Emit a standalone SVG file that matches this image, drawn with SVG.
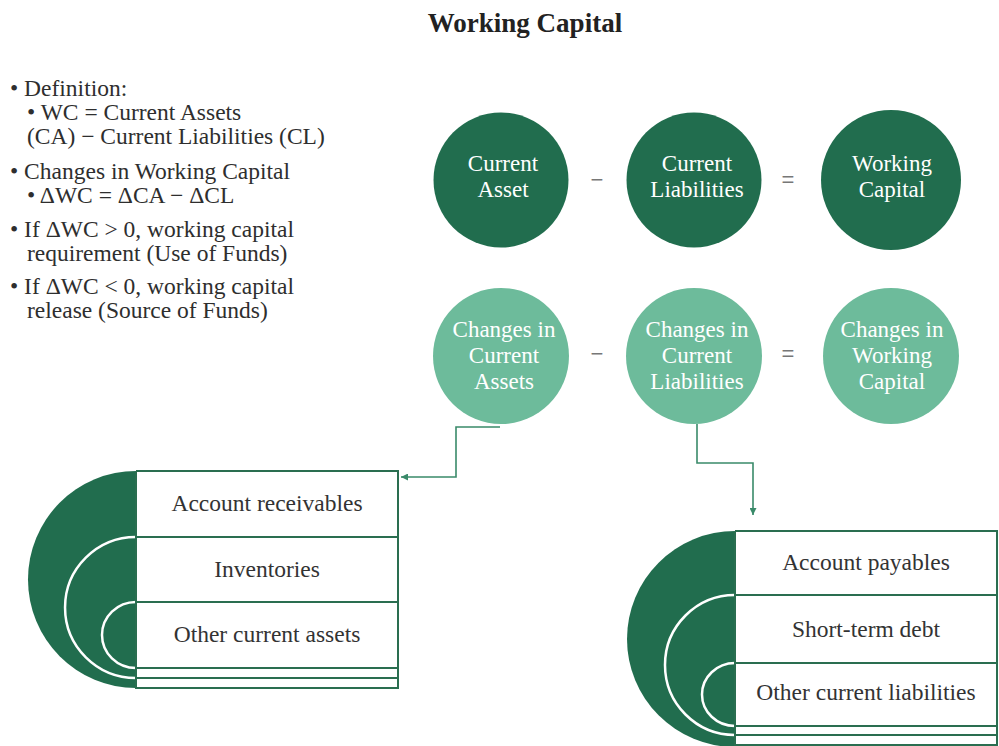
<svg xmlns="http://www.w3.org/2000/svg" width="999" height="746" viewBox="0 0 999 746">
<defs>
<style>
.t{font-family:"Liberation Serif","Times New Roman",serif;font-size:23.5px;fill:#2e2e2e}
.ttl{font-family:"Liberation Serif","Times New Roman",serif;font-size:27px;font-weight:bold;fill:#222}
.ct{font-family:"Liberation Serif","Times New Roman",serif;font-size:23px;fill:#fff;text-anchor:middle}
.bt{font-family:"Liberation Serif","Times New Roman",serif;font-size:23.5px;fill:#333;text-anchor:middle}
.op{font-family:"Liberation Sans",Arial,sans-serif;font-size:22px;fill:#777;text-anchor:middle}
.dk{fill:#216d4e}
.lt{fill:#6dbb9b}
.ln{stroke:#2a6e50;stroke-width:2;fill:none}
.wa{stroke:#fff;stroke-width:2.5;fill:none}
.cn{stroke:#3a8a6a;stroke-width:1.6;fill:none}
</style>
<marker id="ah" viewBox="0 0 10 10" refX="10" refY="5" markerWidth="7" markerHeight="7" orient="auto" markerUnits="userSpaceOnUse">
<path d="M0,0 L10,5 L0,10 Z" fill="#3a8a6a"/>
</marker>
</defs>
<rect width="999" height="746" fill="#fff"/>
<text class="ttl" x="525" y="32" text-anchor="middle">Working Capital</text>
<g id="notes">
<text class="t" x="10" y="96">• Definition:</text>
<text class="t" x="27" y="120">• WC = Current Assets</text>
<text class="t" x="27" y="144">(CA) − Current Liabilities (CL)</text>
<text class="t" x="10" y="179">• Changes in Working Capital</text>
<text class="t" x="27" y="203">• ΔWC = ΔCA − ΔCL</text>
<text class="t" x="10" y="237">• If ΔWC &gt; 0, working capital</text>
<text class="t" x="27" y="261">requirement (Use of Funds)</text>
<text class="t" x="10" y="294">• If ΔWC &lt; 0, working capital</text>
<text class="t" x="27" y="318">release (Source of Funds)</text>
</g>
<g id="ca">
<circle class="dk" cx="501" cy="180" r="67.5"/>
<text class="ct" x="503" y="171">Current</text>
<text class="ct" x="503" y="197">Asset</text>
</g>
<text class="op" x="597" y="187">−</text>
<g id="cl">
<circle class="dk" cx="694" cy="180" r="67.5"/>
<text class="ct" x="697" y="171">Current</text>
<text class="ct" x="697" y="197">Liabilities</text>
</g>
<text class="op" x="788" y="187">=</text>
<g id="wc">
<circle class="dk" cx="891" cy="180" r="70"/>
<text class="ct" x="892" y="171">Working</text>
<text class="ct" x="892" y="197">Capital</text>
</g>
<g id="dca">
<circle class="lt" cx="501" cy="356" r="68"/>
<text class="ct" x="504" y="337">Changes in</text>
<text class="ct" x="504" y="363">Current</text>
<text class="ct" x="504" y="389">Assets</text>
</g>
<text class="op" x="597" y="361">−</text>
<g id="dcl">
<circle class="lt" cx="694" cy="356" r="68"/>
<text class="ct" x="697" y="337">Changes in</text>
<text class="ct" x="697" y="363">Current</text>
<text class="ct" x="697" y="389">Liabilities</text>
</g>
<text class="op" x="788" y="361">=</text>
<g id="dwc">
<circle class="lt" cx="891" cy="356" r="68"/>
<text class="ct" x="892" y="337">Changes in</text>
<text class="ct" x="892" y="363">Working</text>
<text class="ct" x="892" y="389">Capital</text>
</g>
<g id="connectors">
<path class="cn" d="M500,427 H456 V477 H401" marker-end="url(#ah)"/>
<path class="cn" d="M697,424 V463 H753 V515" marker-end="url(#ah)"/>
</g>
<g id="assets">
<path class="dk" d="M136,471 A108,108.5 0 0 0 136,688 Z"/>
<path class="wa" d="M136,537 A71,70.5 0 0 0 136,678"/>
<path class="wa" d="M136,602 A34,33 0 0 0 136,668"/>
<rect x="136" y="471" width="262" height="217" fill="#fff"/>
<path class="ln" d="M136,471 H398 V688 H136 V471 M136,537 H398 M136,602 H398 M136,668 H398 M136,678 H398"/>
<text class="bt" x="267" y="511">Account receivables</text>
<text class="bt" x="267" y="577">Inventories</text>
<text class="bt" x="267" y="642">Other current assets</text>
</g>
<g id="liabilities">
<path class="dk" d="M735,531 A108,108 0 0 0 735,747 Z"/>
<path class="wa" d="M735,595 A70,70 0 0 0 735,735"/>
<path class="wa" d="M735,663 A33,31.5 0 0 0 735,726"/>
<rect x="735" y="531" width="262" height="216" fill="#fff"/>
<path class="ln" d="M735,531 H997 V746 M735,531 V746 M735,595 H997 M735,663 H997 M735,726 H997 M735,735 H997 M735,745 H997"/>
<text class="bt" x="866" y="570">Account payables</text>
<text class="bt" x="866" y="637">Short-term debt</text>
<text class="bt" x="866" y="700">Other current liabilities</text>
</g>
</svg>
